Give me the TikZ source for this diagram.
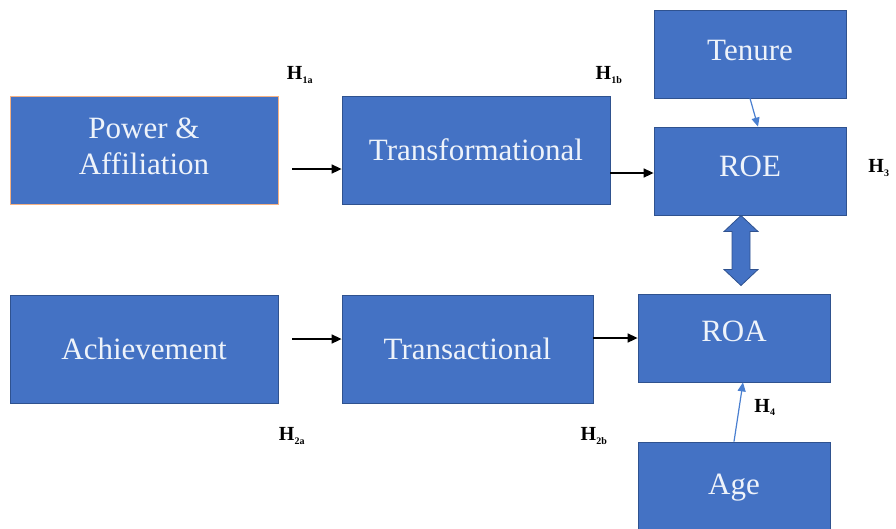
\documentclass[tikz,border=0pt]{standalone}
\usepackage{fontspec}
\setmainfont{Liberation Serif}
\usetikzlibrary{arrows.meta,calc}
\definecolor{boxfill}{HTML}{4472C4}
\definecolor{boxline}{HTML}{2F528F}
\definecolor{orangeline}{HTML}{F4B183}
\definecolor{boxtext}{HTML}{EEF3FA}
\definecolor{thinblue}{HTML}{4A7FD0}
\tikzset{
  box/.style={draw=boxline, line width=0.8pt, fill=boxfill, text=boxtext, inner sep=0pt,
    align=center, font=\fontsize{31}{38}\selectfont},
  blackarrow/.style={draw=black, line width=1.6pt, -{Triangle[length=10pt,width=9pt]}},
  bluearrow/.style={draw=thinblue, line width=1.2pt, -{Triangle[length=9pt,width=8pt]}},
  dblarrow/.style={draw=boxline, line width=0.8pt, fill=boxfill},
  hlabel/.style={inner sep=0pt, font=\fontsize{20}{24}\selectfont\bfseries}
}
\newcommand{\hyp}[1]{H\textsubscript{\fontsize{10}{12}\selectfont #1}}
\begin{document}
\begin{tikzpicture}[x=1pt,y=-1pt]
\useasboundingbox (0,0) rectangle (896,528);
\clip (0,0) rectangle (896,528);
% boxes
\node[box, draw=orangeline, minimum width=268pt, minimum height=108pt, text depth=8pt] (pa) at (144,150) {Power \&\\[-2pt]Affiliation};
\node[box, minimum width=268pt, minimum height=108pt] (tf) at (476,150) {Transformational};
\node[box, minimum width=192pt, minimum height=88pt, text depth=8pt] (ten) at (750,54) {Tenure};
\node[box, minimum width=192pt, minimum height=88pt, text depth=10pt] (roe) at (750,171) {ROE};
\node[box, minimum width=268pt, minimum height=108pt] (ach) at (144,349) {Achievement};
\node[box, minimum width=251pt, minimum height=108pt] (ta) at (467.5,349) {Transactional};
\node[box, minimum width=192pt, minimum height=88pt, text depth=14pt] (roa) at (734,338) {ROA};
\node[box, minimum width=192pt, minimum height=100pt, text depth=16pt] (age) at (734,492) {Age};
% connector end points
\coordinate (paout) at ([xshift=14pt,yshift=-19pt]pa.east);
\coordinate (achout) at ([xshift=14pt,yshift=10pt]ach.east);
\coordinate (tfout) at ([yshift=-23pt]tf.east);
\coordinate (taout) at ([yshift=11pt]ta.east);
% connectors
\draw[blackarrow] (paout) -- (tf.west |- paout);
\draw[blackarrow] (achout) -- (ta.west |- achout);
\draw[blackarrow] (tfout) -- (roe.west |- tfout);
\draw[blackarrow] (taout) -- (roa.west |- taout);
\draw[bluearrow] (ten.south) -- ([xshift=8pt]roe.north);
\draw[bluearrow] (age.north) -- ([xshift=9pt]roa.south);
% double block arrow between ROE and ROA
\coordinate (mid) at ($(roe.south)!0.5!(roa.north)+(-1,-4)$);
\draw[dblarrow] ([shift={(0,-35)}]mid) -- ([shift={(17,-19)}]mid) -- ([shift={(9,-19)}]mid)
  -- ([shift={(9,19)}]mid) -- ([shift={(17,19)}]mid) -- ([shift={(0,35)}]mid)
  -- ([shift={(-17,19)}]mid) -- ([shift={(-9,19)}]mid) -- ([shift={(-9,-19)}]mid)
  -- ([shift={(-17,-19)}]mid) -- cycle;
% hypothesis labels
\node[hlabel] (h1a) at (300,75) {\hyp{1a}};
\node[hlabel] (h1b) at (609,75) {\hyp{1b}};
\node[hlabel] (h3) at (879,168) {\hyp{3}};
\node[hlabel] (h4) at (765,407) {\hyp{4}};
\node[hlabel] (h2a) at (292,436) {\hyp{2a}};
\node[hlabel] (h2b) at (594,436) {\hyp{2b}};
\end{tikzpicture}
\end{document}
